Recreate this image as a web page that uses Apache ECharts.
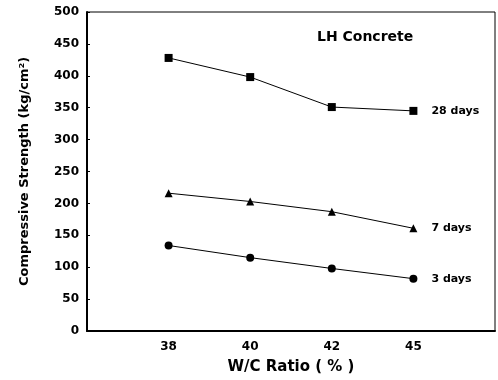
<!DOCTYPE html>
<html>
<head>
<meta charset="utf-8">
<script src="https://cdn.jsdelivr.net/npm/echarts@6/dist/echarts.min.js"></script>
<style>
  html, body { margin: 0; padding: 0; background: #fff; }
  #chart-panel { width: 498px; height: 380px; }
</style>
</head>
<body>
<div id="chart-panel"></div>
<script>
var ratios = ['38', '40', '42', '45'];
var days3 = [134, 115, 98, 82];
var days7 = [216, 203, 187, 161];
var days28 = [428, 398, 351, 345];
var yTicks = [0, 50, 100, 150, 200, 250, 300, 350, 400, 450, 500];

var font = 'DejaVu Sans, Verdana, sans-serif';

function pts(vals) {
    return vals.map(function (v, i) { return [i, v]; });
}

function makeSeries(name, vals, symbol, size) {
    var data = pts(vals);
    var last = data.length - 1;
    data[last] = {
        value: data[last],
        label: {
            show: true,
            position: 'right',
            distance: 14,
            formatter: name,
            color: '#000',
            fontFamily: font,
            fontWeight: 'bold',
            fontSize: 11
        }
    };
    return {
        name: name,
        type: 'line',
        data: data,
        symbol: symbol,
        symbolSize: size,
        lineStyle: { color: '#000', width: 1 },
        itemStyle: { color: '#000' },
        animation: false
    };
}

var chart = echarts.init(document.getElementById('chart-panel'));
chart.setOption({
    backgroundColor: '#fff',
    title: {
        text: 'LH Concrete',
        left: 312,
        top: 25,
        textStyle: { color: '#000', fontFamily: font, fontWeight: 'bold', fontSize: 14 }
    },
    grid: {
        left: 87, right: 3, top: 12, bottom: 42,
        show: true, borderColor: '#000', borderWidth: 1
    },
    xAxis: {
        type: 'value',
        min: -1, max: 4, interval: 1,
        name: 'W/C Ratio ( % )',
        nameLocation: 'middle',
        nameGap: 29,
        nameTextStyle: { color: '#000', fontFamily: font, fontWeight: 'bold', fontSize: 15 },
        axisLine: { show: true, onZero: false, lineStyle: { color: '#000', width: 2 } },
        axisTick: { show: false },
        splitLine: { show: false },
        axisLabel: {
            color: '#000', fontFamily: font, fontWeight: 'bold', fontSize: 12, margin: 10,
            showMinLabel: false, showMaxLabel: false,
            formatter: function (v) { return ratios[v] || ''; }
        }
    },
    yAxis: {
        type: 'value',
        min: yTicks[0], max: yTicks[yTicks.length - 1], interval: 50,
        name: 'Compressive Strength (kg/cm²)',
        nameLocation: 'middle',
        nameGap: 56,
        nameTextStyle: { color: '#000', fontFamily: font, fontWeight: 'bold', fontSize: 13 },
        axisLine: { show: true, onZero: false, lineStyle: { color: '#000', width: 2 } },
        axisTick: { show: true, inside: true, length: 3, lineStyle: { color: '#000' } },
        splitLine: { show: false },
        axisLabel: { color: '#000', fontFamily: font, fontWeight: 'bold', fontSize: 12, margin: 8 }
    },
    series: [
        makeSeries('28 days', days28, 'rect', 8),
        makeSeries('7 days', days7, 'triangle', 8),
        makeSeries('3 days', days3, 'circle', 8)
    ]
});
</script>
</body>
</html>
